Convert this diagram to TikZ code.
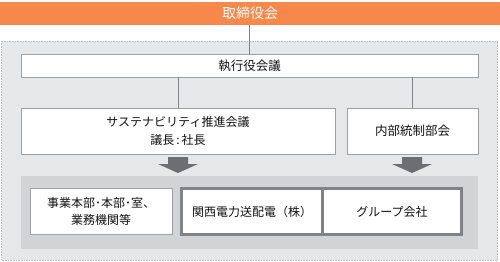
\documentclass[tikz,border=0pt]{standalone}
\usepackage{fontspec}
\setmainfont{Noto Sans CJK JP}
\definecolor{orangebar}{HTML}{F5884A}
\definecolor{panel}{HTML}{E6E7E8}
\definecolor{inner}{HTML}{D1D3D4}
\definecolor{boxline}{HTML}{9D9FA2}
\definecolor{thick}{HTML}{808285}
\definecolor{arrowc}{HTML}{6D6E71}
\definecolor{txt}{HTML}{111111}
\tikzset{
  wbox/.style={draw=boxline, line width=0.8pt, fill=white, inner sep=0pt, align=center, text=txt, font=\fontsize{12}{17}\selectfont},
  tbox/.style={draw=thick, line width=3pt, fill=white, inner sep=0pt, align=center, text=txt, font=\fontsize{12}{17}\selectfont},
  conn/.style={draw=thick, line width=0.8pt},
  bigarrow/.style={fill=arrowc}
}
\begin{document}
\begin{tikzpicture}[x=1pt,y=-1pt]
\useasboundingbox (0,0) rectangle (500,262);
% panels
\fill[panel] (1.5,41) rectangle (497.5,260);
\draw[densely dotted, draw=boxline!70, line width=0.6pt] (1.5,41) rectangle (497.5,260);
\fill[inner] (21,176) rectangle (478,249);
% title bar
\node[fill=orangebar, minimum width=500pt, minimum height=23pt, inner sep=0pt, text=white, font=\fontsize{14}{16}\selectfont] (ttl) at (250,13.5) {取締役会};
% boxes
\node[wbox, minimum width=457pt, minimum height=23pt, font=\fontsize{12.5}{16}\selectfont] (exec) at (249.5,65.5) {執行役会議};
\node[wbox, minimum width=314pt, minimum height=46pt, font=\fontsize{12}{18}\selectfont] (sus) at (178,131) {サステナビリティ推進会議\\議長\,:\,社長};
\node[wbox, minimum width=131pt, minimum height=46pt, font=\fontsize{12.5}{16}\selectfont] (nai) at (412.5,131) {内部統制部会};
\node[wbox, minimum width=142pt, minimum height=46pt] (jig) at (101,211) {事業本部･本部･室、\\業務機関等};
\node[tbox, minimum width=141pt, minimum height=46pt] (kan) at (252,211.5) {関西電力送配電（株）};
\node[tbox, minimum width=139pt, minimum height=46pt] (grp) at (392,211.5) {グループ会社};
% connectors
\draw[conn] (ttl.south -| exec.north) -- (exec.north);
\draw[conn] (exec.south -| sus.north) -- (sus.north);
\draw[conn] (exec.south -| nai.north) -- (nai.north);
% big arrows
\fill[bigarrow] (168,157) -- (188,157) -- (188,164) -- (198,164) -- (178,173) -- (158,164) -- (168,164) -- cycle;
\fill[bigarrow] (402,157) -- (422,157) -- (422,164) -- (432,164) -- (412,173) -- (392,164) -- (402,164) -- cycle;
\end{tikzpicture}
\end{document}
